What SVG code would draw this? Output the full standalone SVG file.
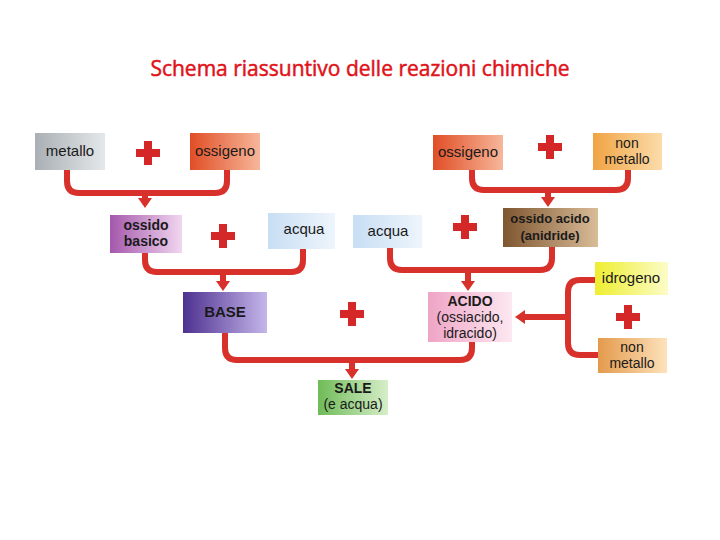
<svg xmlns="http://www.w3.org/2000/svg" width="720" height="540" viewBox="0 0 720 540">
<style>
.t{font-family:"Liberation Sans",Arial,sans-serif;font-size:15px;fill:#1a1a1a;text-anchor:middle}
.m{font-size:14px}
.b{font-weight:bold}
.c{fill:none;stroke:#d8302a;stroke-width:6;stroke-linecap:butt}
.title{font-family:"Open Sans","Liberation Sans",sans-serif;font-size:21px;fill:#e0121a;text-anchor:middle;stroke:#e0121a;stroke-width:0.5}
</style>
<defs>
<marker id="ah" markerUnits="userSpaceOnUse" viewBox="0 0 10 14" markerWidth="10" markerHeight="15" refX="3" refY="7" orient="auto">
<path d="M0,0 L10,7 L0,14 z" fill="#d8302a"/>
</marker>
<g id="plus"><rect x="-12" y="-4" width="24" height="8" fill="#d42828"/><rect x="-4" y="-12" width="8" height="24" fill="#d42828"/></g>
<linearGradient id="gGray" x1="0" y1="0" x2="1" y2="0"><stop offset="0" stop-color="#a9afb4"/><stop offset="1" stop-color="#e4e8ea"/></linearGradient>
<linearGradient id="gOx" x1="0" y1="0" x2="1" y2="0"><stop offset="0" stop-color="#e04e26"/><stop offset="1" stop-color="#f7b79a"/></linearGradient>
<linearGradient id="gPur" x1="0" y1="0" x2="1" y2="0"><stop offset="0" stop-color="#a458ac"/><stop offset="1" stop-color="#f2d6f0"/></linearGradient>
<linearGradient id="gBlue" x1="0" y1="0" x2="1" y2="0"><stop offset="0" stop-color="#c8def4"/><stop offset="1" stop-color="#eef5fc"/></linearGradient>
<linearGradient id="gNm" x1="0" y1="0" x2="1" y2="0"><stop offset="0" stop-color="#f0a444"/><stop offset="1" stop-color="#fcdcaa"/></linearGradient>
<linearGradient id="gBr" x1="0" y1="0" x2="1" y2="0"><stop offset="0" stop-color="#7e5630"/><stop offset="1" stop-color="#d9bc98"/></linearGradient>
<linearGradient id="gBase" x1="0" y1="0" x2="1" y2="0"><stop offset="0" stop-color="#4e3090"/><stop offset="1" stop-color="#c4b6ea"/></linearGradient>
<linearGradient id="gAc" x1="0" y1="0" x2="1" y2="0"><stop offset="0" stop-color="#efa4c6"/><stop offset="1" stop-color="#fde8f1"/></linearGradient>
<linearGradient id="gSale" x1="0" y1="0" x2="1" y2="0"><stop offset="0" stop-color="#6fbb58"/><stop offset="1" stop-color="#d6eec8"/></linearGradient>
<linearGradient id="gH" x1="0" y1="0" x2="1" y2="0"><stop offset="0" stop-color="#eeee30"/><stop offset="1" stop-color="#fcfcc8"/></linearGradient>
<linearGradient id="gNm2" x1="0" y1="0" x2="1" y2="0"><stop offset="0" stop-color="#e49a4c"/><stop offset="1" stop-color="#fde2bc"/></linearGradient>
</defs>
<rect width="720" height="540" fill="#ffffff"/>
<text class="title" x="360" y="76">Schema riassuntivo delle reazioni chimiche</text>

<g id="connectors">
<path class="c" d="M67,170 V181 Q67,193 79,193 H215 Q227,193 227,181 V170"/>
<path class="c" d="M145,193 V201" marker-end="url(#ah)"/>
<path class="c" d="M472,170 V178 Q472,190 484,190 H616 Q628,190 628,178 V170"/>
<path class="c" d="M548,190 V200" marker-end="url(#ah)"/>
<path class="c" d="M145,253 V260 Q145,272 157,272 H291 Q303,272 303,260 V249"/>
<path class="c" d="M223,272 V284" marker-end="url(#ah)"/>
<path class="c" d="M390,248 V258 Q390,270 402,270 H540 Q552,270 552,258 V247"/>
<path class="c" d="M468,270 V284" marker-end="url(#ah)"/>
<path class="c" d="M225,333 V348 Q225,360 237,360 H460 Q472,360 472,348 V342"/>
<path class="c" d="M352,360 V372" marker-end="url(#ah)"/>
<path class="c" d="M596,280 H580 Q568,280 568,292 V343 Q568,355 580,355 H598"/>
<path class="c" d="M568,317 H522" marker-end="url(#ah)"/>
</g>

<g id="plus-signs">
<use href="#plus" x="148" y="153"/>
<use href="#plus" x="550" y="147"/>
<use href="#plus" x="223" y="236"/>
<use href="#plus" x="465" y="227"/>
<use href="#plus" x="352" y="314"/>
<use href="#plus" x="628" y="317"/>
</g>

<g id="metallo"><rect x="35" y="133" width="70" height="37" fill="url(#gGray)"/><text class="t" x="70" y="156">metallo</text></g>
<g id="ossigeno1"><rect x="190" y="133" width="70" height="37" fill="url(#gOx)"/><text class="t" x="225" y="156">ossigeno</text></g>
<g id="ossigeno2"><rect x="433" y="135" width="70" height="35" fill="url(#gOx)"/><text class="t" x="468" y="157">ossigeno</text></g>
<g id="nonmetallo1"><rect x="593" y="133" width="69" height="37" fill="url(#gNm)"/><text class="t m" x="627" y="148">non</text><text class="t m" x="627" y="164">metallo</text></g>
<g id="ossidobasico"><rect x="110" y="215" width="72" height="38" fill="url(#gPur)"/><text class="t b m" x="146" y="230">ossido</text><text class="t b m" x="146" y="246">basico</text></g>
<g id="acqua1"><rect x="268" y="213" width="67" height="36" fill="url(#gBlue)"/><text class="t" x="304" y="234">acqua</text></g>
<g id="acqua2"><rect x="353" y="215" width="69" height="33" fill="url(#gBlue)"/><text class="t" x="388" y="236">acqua</text></g>
<g id="ossidoacido"><rect x="503" y="208" width="95" height="39" fill="url(#gBr)"/><text class="t b" x="550" y="223" style="font-size:13px">ossido acido</text><text class="t b" x="550" y="240" style="font-size:13px">(anidride)</text></g>
<g id="base"><rect x="183" y="292" width="84" height="41" fill="url(#gBase)"/><text class="t b" x="225" y="317">BASE</text></g>
<g id="acido"><rect x="428" y="292" width="84" height="50" fill="url(#gAc)"/><text class="t b m" x="470" y="306">ACIDO</text><text class="t m" x="470" y="322">(ossiacido,</text><text class="t m" x="470" y="338">idracido)</text></g>
<g id="sale"><rect x="318" y="380" width="70" height="35" fill="url(#gSale)"/><text class="t b m" x="353" y="393">SALE</text><text class="t m" x="353" y="409">(e acqua)</text></g>
<g id="idrogeno"><rect x="595" y="262" width="73" height="33" fill="url(#gH)"/><text class="t" x="631" y="283">idrogeno</text></g>
<g id="nonmetallo2"><rect x="598" y="338" width="69" height="35" fill="url(#gNm2)"/><text class="t m" x="632" y="352">non</text><text class="t m" x="632" y="368">metallo</text></g>
</svg>
